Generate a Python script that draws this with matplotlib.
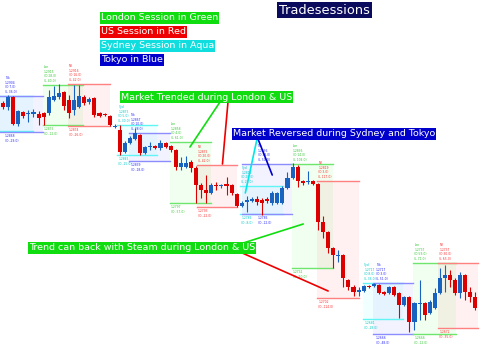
import numpy as np
import matplotlib
matplotlib.use("Agg")
import matplotlib.pyplot as plt
from matplotlib.patches import Rectangle

# hourly candles (price)
opens = [1.2897, 1.2893, 1.2903, 1.2876, 1.2888, 1.2886, 1.2886, 1.2886, 1.2887, 1.2887,
         1.2900, 1.2903, 1.2908, 1.2900, 1.2890, 1.2893, 1.2903, 1.2898, 1.2902, 1.2887,
         1.2886, 1.2884, 1.2873, 1.2870, 1.2848, 1.2857, 1.2861, 1.2865, 1.2847, 1.2853,
         1.2854, 1.2852, 1.2857, 1.2854, 1.2850, 1.2833, 1.2833, 1.2838, 1.2832, 1.2815,
         1.2810, 1.2807, 1.2815, 1.2814, 1.2816, 1.2815, 1.2806, 1.2794, 1.2798, 1.2799,
         1.2801, 1.2800, 1.2801, 1.2797, 1.2797, 1.2797, 1.2812, 1.2822, 1.2833, 1.2819,
         1.2818, 1.2819, 1.2816, 1.2778, 1.2768, 1.2752, 1.2744, 1.2745, 1.2720, 1.2713,
         1.2708, 1.2709, 1.2714, 1.2714, 1.2715, 1.2708, 1.2707, 1.2713, 1.2707, 1.2695,
         1.2703, 1.2678, 1.2696, 1.2697, 1.2687, 1.2692, 1.2707, 1.2722, 1.2725, 1.2720,
         1.2707, 1.2725, 1.2708, 1.2703]
highs = [1.2899, 1.2905, 1.2904, 1.2890, 1.2889, 1.2890, 1.2891, 1.2889, 1.2888, 1.2910,
         1.2914, 1.2916, 1.2909, 1.2905, 1.2915, 1.2915, 1.2905, 1.2903, 1.2903, 1.2888,
         1.2887, 1.2885, 1.2876, 1.2875, 1.2859, 1.2864, 1.2872, 1.2866, 1.2854, 1.2858,
         1.2855, 1.2860, 1.2858, 1.2855, 1.2851, 1.2843, 1.2844, 1.2840, 1.2834, 1.2817,
         1.2825, 1.2817, 1.2818, 1.2816, 1.2823, 1.2816, 1.2807, 1.2799, 1.2804, 1.2803,
         1.2804, 1.2802, 1.2803, 1.2809, 1.2808, 1.2814, 1.2828, 1.2837, 1.2835, 1.2820,
         1.2829, 1.2820, 1.2817, 1.2784, 1.2769, 1.2753, 1.2750, 1.2746, 1.2721, 1.2715,
         1.2713, 1.2715, 1.2715, 1.2717, 1.2716, 1.2709, 1.2714, 1.2714, 1.2708, 1.2704,
         1.2704, 1.2698, 1.2720, 1.2698, 1.2700, 1.2712, 1.2732, 1.2735, 1.2730, 1.2722,
         1.2728, 1.2726, 1.2713, 1.2708]
lows = [1.2891, 1.2890, 1.2875, 1.2874, 1.2882, 1.2878, 1.2883, 1.2875, 1.2875, 1.2885,
        1.2899, 1.2901, 1.2890, 1.2882, 1.2885, 1.2892, 1.2895, 1.2896, 1.2883, 1.2883,
        1.2884, 1.2874, 1.2872, 1.2845, 1.2847, 1.2856, 1.2860, 1.2845, 1.2846, 1.2850,
        1.2851, 1.2850, 1.2852, 1.2848, 1.2830, 1.2830, 1.2832, 1.2828, 1.2797, 1.2802,
        1.2797, 1.2806, 1.2810, 1.2812, 1.2805, 1.2805, 1.2793, 1.2793, 1.2788, 1.2798,
        1.2795, 1.2785, 1.2797, 1.2795, 1.2796, 1.2796, 1.2811, 1.2821, 1.2813, 1.2815,
        1.2816, 1.2815, 1.2770, 1.2762, 1.2747, 1.2732, 1.2738, 1.2713, 1.2710, 1.2704,
        1.2704, 1.2708, 1.2712, 1.2713, 1.2706, 1.2705, 1.2706, 1.2704, 1.2682, 1.2694,
        1.2668, 1.2670, 1.2680, 1.2680, 1.2686, 1.2691, 1.2706, 1.2708, 1.2713, 1.2705,
        1.2702, 1.2700, 1.2698, 1.2690]
closes = [1.2893, 1.2903, 1.2876, 1.2889, 1.2884, 1.2887, 1.2888, 1.2882, 1.2883, 1.2903,
          1.2904, 1.2907, 1.2894, 1.2887, 1.2900, 1.2904, 1.2897, 1.2901, 1.2885, 1.2884,
          1.2885, 1.2875, 1.2874, 1.2848, 1.2857, 1.2862, 1.2867, 1.2847, 1.2853, 1.2854,
          1.2852, 1.2857, 1.2853, 1.2850, 1.2833, 1.2837, 1.2837, 1.2832, 1.2815, 1.2810,
          1.2807, 1.2815, 1.2814, 1.2815, 1.2814, 1.2807, 1.2794, 1.2797, 1.2800, 1.2801,
          1.2798, 1.2797, 1.2799, 1.2807, 1.2807, 1.2812, 1.2822, 1.2833, 1.2819, 1.2817,
          1.2819, 1.2816, 1.2778, 1.2768, 1.2752, 1.2745, 1.2745, 1.2722, 1.2713, 1.2708,
          1.2710, 1.2714, 1.2713, 1.2716, 1.2707, 1.2706, 1.2713, 1.2705, 1.2695, 1.2703,
          1.2678, 1.2697, 1.2697, 1.2685, 1.2698, 1.2707, 1.2722, 1.2725, 1.2720, 1.2707,
          1.2725, 1.2708, 1.2703, 1.2692]

# session boxes (in candle index / price)
sess_kind = ["Syd", "Tok", "Lon", "NY"] * 4
sess_start = [-1.0, -1.0, 7.9, 12.8, 22.5, 24.9, 32.9, 38.2,
              46.7, 47.1, 56.9, 61.9, 70.9, 72.9, 80.8, 85.7]
sess_end = [5.9, 7.9, 15.8, 21.1, 30.3, 32.9, 41.0, 46.1,
            55.2, 56.9, 65.0, 70.0, 78.8, 80.8, 89.1, 93.6]
sess_high = [1.2904, 1.2904, 1.2915, 1.2916, 1.2875, 1.2867, 1.2858, 1.2835,
             1.2814, 1.2836, 1.2836, 1.2819, 1.2717, 1.2717, 1.2737, 1.2737]
sess_low = [1.2869, 1.2868, 1.2875, 1.2874, 1.2845, 1.2839, 1.2797, 1.2793,
            1.2786, 1.2786, 1.2732, 1.2702, 1.2681, 1.2666, 1.2666, 1.2672]
# where the small session captions start (None = off chart)
label_at = [None, 0.2, 7.9, 12.8, 22.5, 24.9, 32.9, 38.2,
            46.7, 49.9, 56.9, 61.9, 70.9, 73.2, 80.8, 85.7]

line_col = {"Syd": "#5ff5f5", "Tok": "#8c8cff", "Lon": "#6ee66e", "NY": "#ff8080"}
fill_col = {"Syd": "#00ffff", "Tok": "#3a3aff", "Lon": "#00ff00", "NY": "#ff2020"}
text_col = {"Syd": "#00c8c8", "Tok": "#2828ff", "Lon": "#33c833", "NY": "#ff3030"}

fig = plt.figure(figsize=(4.98, 3.44), dpi=100)
ax = fig.add_axes([0, 0, 1, 1])
ax.set_xlim(-0.59, 97.44)
ax.set_ylim(1.2656, 1.3000)
ax.axis("off")

for k, s, e, hi, lo, lx in zip(sess_kind, sess_start, sess_end, sess_high, sess_low, label_at):
    ax.add_patch(Rectangle((s, lo), e - s, hi - lo, fc=fill_col[k], alpha=0.06, ec="none", zorder=1))
    ax.plot([s, e], [hi, hi], color=line_col[k], lw=1.0, zorder=2)
    ax.plot([s, e], [lo, lo], color=line_col[k], lw=1.0, zorder=2)
    if lx is None:
        continue
    i0 = int(np.ceil(max(s, 0)))
    top_txt = "%s\n%.4f\n(O %.1f)\n(L %.1f)" % (k, hi, (hi - opens[i0]) * 10000, (hi - lo) * 10000)
    ax.text(lx + 0.2, hi + 0.0002, top_txt, fontsize=2.2, color=text_col[k],
            ha="left", va="bottom", linespacing=1.2, zorder=3)
    bot_txt = "%.4f\n(O -%.1f)" % (lo, (opens[i0] - lo) * 10000)
    ax.text(lx + 0.2, lo - 0.0002, bot_txt, fontsize=2.2, color=text_col[k],
            ha="left", va="top", linespacing=1.2, zorder=3)

o = np.array(opens)
h = np.array(highs)
l = np.array(lows)
c = np.array(closes)
idx = np.arange(len(o))
cols = np.where(c >= o, "#1862c0", "#dd0000")
ax.vlines(idx, l, h, colors=cols, lw=0.8, zorder=4)
body = np.maximum(np.abs(c - o), 0.00012)
ax.bar(idx, body, bottom=np.minimum(o, c), width=0.8, color=cols, zorder=5)

# header labels
def label(x, y, s, bg, size=6.8, ha="left"):
    fig.text(x / 498, 1 - y / 344, s, fontsize=size, color="white", ha=ha, va="center",
             bbox=dict(boxstyle="square,pad=0.12", fc=bg, ec="none"), zorder=10)

label(324.5, 10, "Tradesessions", "#0b0b5e", size=9.4, ha="center")
label(101, 18, "London Session in Green", "#10dd10")
label(101, 32, "US Session in Red", "#ee0000")
label(101, 46, "Sydney Session in Aqua", "#10dede")
label(101, 60, "Tokyo in Blue", "#0000cc")

# pointers: (text anchor in figure pixels) -> (candle index, price)
def pointer(px, py, xi, yp, col):
    ax.annotate("", xy=(xi, yp), xycoords="data", xytext=(px, py), textcoords="figure pixels",
                arrowprops=dict(arrowstyle="-", color=col, lw=1.2, shrinkA=0, shrinkB=0), zorder=8)

pointer(220, 242, 36.8, 1.2853, "#10dd10")
pointer(228, 242, 43.2, 1.2836, "#ee0000")
pointer(257, 205, 47.7, 1.2807, "#00e8e8")
pointer(258, 205, 53.0, 1.2825, "#0000cc")
pointer(240, 100, 59.1, 1.2776, "#10dd10")
pointer(240, 92, 64.0, 1.2709, "#ee0000")

label(121, 97, "Market Trended during London & US", "#10dd10")
label(233, 134, "Market Reversed during Sydney and Tokyo", "#0000cc")
label(29, 248, "Trend can back with Steam during London & US", "#10dd10")

fig.savefig("out.png", dpi=100)
